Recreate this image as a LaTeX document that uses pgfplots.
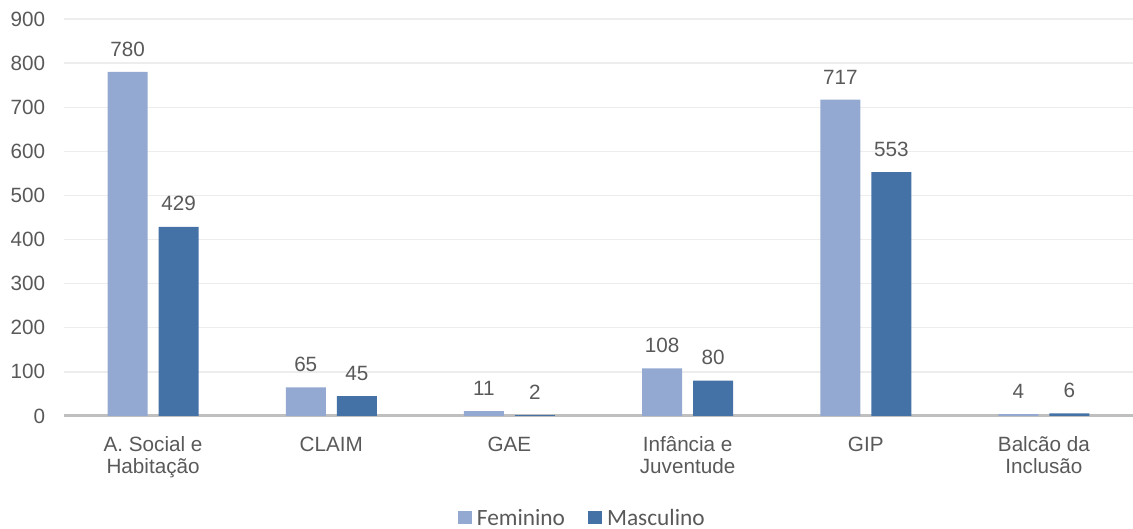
\documentclass[border=0pt]{standalone}
\usepackage{pgfplots}
\pgfplotsset{compat=1.18}
\usepackage{fontspec}
\setmainfont{Liberation Sans}
\newfontfamily\calibri{Carlito}
\definecolor{fem}{HTML}{94A9D1}
\definecolor{masc}{HTML}{4472A7}
\definecolor{txt}{HTML}{595959}
\definecolor{gridc}{HTML}{EDEDED}
\definecolor{basec}{HTML}{BFBFBF}
\begin{document}
\begin{tikzpicture}
\begin{axis}[
  scale only axis,
  width=801.75pt, height=297.75pt,
  ybar=8.25pt, bar width=30pt,
  xmin=-0.5, xmax=5.5, ymin=0, ymax=900,
  ytick={0,100,...,900},
  xtick=data,
  xticklabels={{A. Social e\\Habitação},{CLAIM},{GAE},{Infância e\\Juventude},{GIP},{Balcão da\\Inclusão}},
  axis lines*=left,
  y axis line style={draw=none},
  x axis line style={draw=basec, line width=2.25pt},
  major tick length=0pt,
  ymajorgrids,
  grid style={draw=gridc, line width=1pt},
  /pgf/number format/assume math mode=true,
  tick label style={font=\fontsize{15.5}{16.5}\selectfont, text=txt},
  yticklabel style={inner sep=0pt, xshift=-14pt},
  xticklabel style={inner sep=0pt, yshift=-15.5pt, align=center},
  nodes near coords,
  every node near coord/.append style={font=\fontsize{15.5}{18}\selectfont, text=txt, inner sep=0pt, yshift=11.5pt},
  legend style={at={(0.485,-0.257)}, anchor=center, draw=none, fill=none,
    font=\calibri\fontsize{17.5}{20}\selectfont, text=txt, legend columns=2,
    /tikz/every odd column/.append style={column sep=2pt},
    /tikz/every even column/.append style={column sep=15pt}},
  legend image code/.code={\fill[#1] (0pt,-4.8pt) rectangle (10.5pt,5pt);},
]
\addplot[draw=none, fill=fem] coordinates {(0,780) (1,65) (2,11) (3,108) (4,717) (5,4)};
\addplot[draw=none, fill=masc] coordinates {(0,429) (1,45) (2,2) (3,80) (4,553) (5,6)};
\legend{Feminino, Masculino}
\end{axis}
\pgfresetboundingbox
\useasboundingbox ([shift={(-48pt,-84.75pt)}]current axis.south west) rectangle ([shift={(0pt,14.25pt)}]current axis.north east);
\end{tikzpicture}
\end{document}
